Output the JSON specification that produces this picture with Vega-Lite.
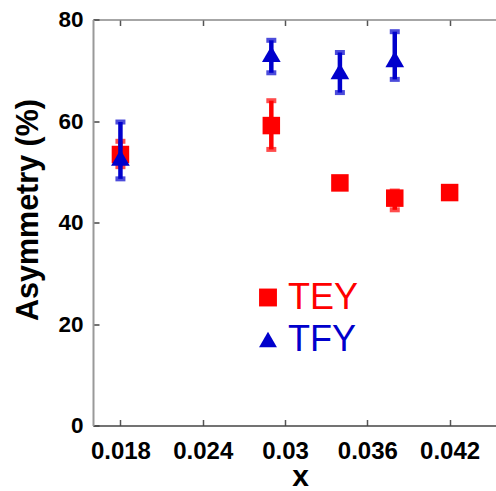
{
  "$schema": "https://vega.github.io/schema/vega-lite/v6.json",
  "width": 403,
  "height": 406,
  "autosize": "none",
  "padding": {"left": 93, "top": 19.5, "right": 0, "bottom": 65.5},
  "background": "white",
  "config": {
    "view": {"stroke": null},
    "font": "Liberation Sans"
  },
  "data": {
    "values": [
      {"series": "TEY", "x": 0.018, "y": 53.4, "lo": 51.0, "hi": 56.0},
      {"series": "TEY", "x": 0.029, "y": 59.1, "lo": 54.4, "hi": 64.0},
      {"series": "TEY", "x": 0.034, "y": 47.8, "lo": 47.5, "hi": 48.1},
      {"series": "TEY", "x": 0.038, "y": 44.8, "lo": 42.5, "hi": 46.2},
      {"series": "TEY", "x": 0.042, "y": 45.9, "lo": 45.6, "hi": 46.2},
      {"series": "TFY", "x": 0.018, "y": 52.8, "lo": 48.6, "hi": 59.8},
      {"series": "TFY", "x": 0.029, "y": 73.2, "lo": 69.5, "hi": 75.9},
      {"series": "TFY", "x": 0.034, "y": 69.8, "lo": 65.6, "hi": 73.5},
      {"series": "TFY", "x": 0.038, "y": 72.2, "lo": 68.2, "hi": 77.6}
    ]
  },
  "resolve": {"axis": {"x": "independent"}},
  "layer": [
    {
      "transform": [{"filter": "datum.series == 'TEY'"}],
      "encoding": {
        "x": {
          "field": "x", "type": "quantitative",
          "scale": {"domain": [0.016, 0.04538], "nice": false, "zero": false},
          "axis": {
            "orient": "bottom",
            "values": [0.018, 0.024, 0.03, 0.036, 0.042],
            "format": "~f",
            "grid": false,
            "domainColor": "#444444", "domainWidth": 1.5,
            "tickColor": "#555555", "tickWidth": 1.5, "tickSize": -6,
            "labelFont": "Liberation Sans", "labelFontWeight": "bold", "labelFontSize": 24, "labelColor": "black",
            "labelPadding": 20,
            "title": "x", "titleFont": "Liberation Sans", "titleFontWeight": "bold", "titleFontSize": 30, "titleColor": "black",
            "titleX": 207, "titleY": 60, "titleBaseline": "alphabetic"
          }
        }
      },
      "layer": [
        {
          "mark": {"type": "rule", "color": "#ff0000", "strokeWidth": 4.5},
          "encoding": {
            "y": {
              "field": "lo", "type": "quantitative",
              "scale": {"domain": [0, 80], "nice": false},
              "axis": {
                "values": [0, 20, 40, 60, 80],
                "grid": false,
                "domainColor": "#999999", "domainWidth": 2,
                "tickColor": "#444444", "tickWidth": 1.5, "tickSize": -6,
                "labelFont": "Liberation Sans", "labelFontWeight": "bold", "labelFontSize": 22.5, "labelColor": "black",
                "labelPadding": 16,
                "title": "Asymmetry (%)", "titleFont": "Liberation Sans", "titleFontWeight": "bold", "titleFontSize": 30.5, "titleColor": "black",
                "titleX": -56, "titleY": 190, "titleAngle": 270, "titleBaseline": "alphabetic", "titleAlign": "center"
              }
            },
            "y2": {"field": "hi"}
          }
        },
        {
          "mark": {"type": "tick", "orient": "horizontal", "color": "#ff0000", "size": 10, "thickness": 5},
          "encoding": {"y": {"field": "lo", "type": "quantitative"}}
        },
        {
          "mark": {"type": "tick", "orient": "horizontal", "color": "#ff0000", "size": 10, "thickness": 5},
          "encoding": {"y": {"field": "hi", "type": "quantitative"}}
        },
        {
          "mark": {"type": "point", "filled": true, "opacity": 1, "size": 306},
          "encoding": {
            "y": {"field": "y", "type": "quantitative"},
            "color": {
              "field": "series", "type": "nominal",
              "scale": {"domain": ["TEY", "TFY"], "range": ["#ff0000", "#0000cc"]},
              "legend": {
                "title": null, "orient": "none", "legendX": 157, "legendY": 260,
                "labelFont": "Liberation Sans", "labelFontSize": 36, "labelFontWeight": "normal",
                "labelColor": {"expr": "datum.value == 'TEY' ? '#ff0000' : '#0000cc'"},
                "labelOffset": 2, "rowPadding": 6, "symbolSize": 320, "symbolStrokeWidth": 0
              }
            },
            "shape": {
              "field": "series", "type": "nominal",
              "scale": {"domain": ["TEY", "TFY"], "range": ["square", "triangle-up"]},
              "legend": {
                "title": null, "orient": "none", "legendX": 157, "legendY": 260,
                "labelFont": "Liberation Sans", "labelFontSize": 36, "labelFontWeight": "normal",
                "labelColor": {"expr": "datum.value == 'TEY' ? '#ff0000' : '#0000cc'"},
                "labelOffset": 2, "rowPadding": 6, "symbolSize": 320, "symbolStrokeWidth": 0
              }
            }
          }
        }
      ]
    },
    {
      "transform": [{"filter": "datum.series == 'TFY'"}],
      "encoding": {
        "x": {"field": "x", "type": "quantitative", "axis": null}
      },
      "layer": [
        {
          "mark": {"type": "rule", "color": "#0000cc", "strokeWidth": 4.5},
          "encoding": {
            "y": {"field": "lo", "type": "quantitative"},
            "y2": {"field": "hi"}
          }
        },
        {
          "mark": {"type": "tick", "orient": "horizontal", "color": "#0000cc", "size": 10, "thickness": 5},
          "encoding": {"y": {"field": "lo", "type": "quantitative"}}
        },
        {
          "mark": {"type": "tick", "orient": "horizontal", "color": "#0000cc", "size": 10, "thickness": 5},
          "encoding": {"y": {"field": "hi", "type": "quantitative"}}
        },
        {
          "mark": {"type": "point", "filled": true, "opacity": 1, "size": 350},
          "encoding": {
            "y": {"field": "y", "type": "quantitative"},
            "color": {"field": "series", "type": "nominal"},
            "shape": {"field": "series", "type": "nominal"}
          }
        }
      ]
    },
    {
      "mark": {"type": "point", "opacity": 0},
      "encoding": {
        "x": {
          "field": "x", "type": "quantitative",
          "axis": {
            "orient": "top",
            "values": [0.018, 0.024, 0.03, 0.036, 0.042],
            "labels": false, "title": null, "grid": false,
            "domainColor": "#888888", "domainWidth": 1.5,
            "tickColor": "#555555", "tickWidth": 1.5, "tickSize": -6
          }
        }
      }
    }
  ]
}
